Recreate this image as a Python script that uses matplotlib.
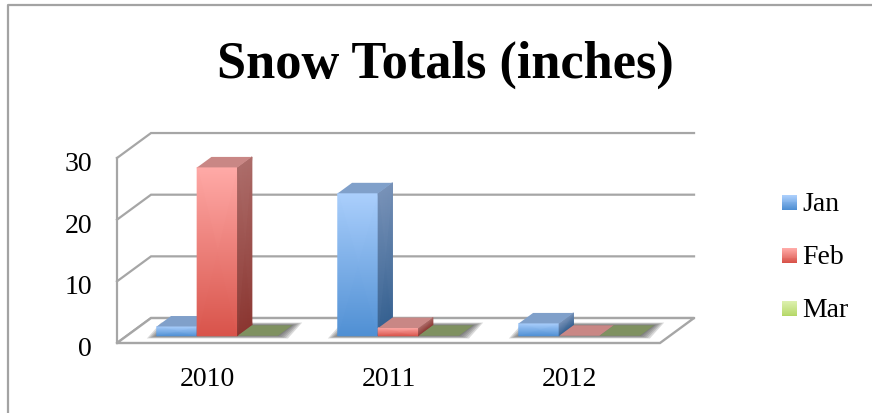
"""
Snow totals, oblique 3D column look drawn on a normal 2D axes.
"""

import matplotlib

matplotlib.use("Agg")

import matplotlib.pyplot as plt
from matplotlib.colors import LinearSegmentedColormap
from matplotlib.legend_handler import HandlerBase
from matplotlib.lines import Line2D
from matplotlib.patches import Patch, Polygon, Rectangle
from matplotlib.transforms import ScaledTranslation

YEARS = ["2010", "2011", "2012"]
MONTHS = ["Jan", "Feb", "Mar"]
JAN = [1.5, 23.1, 2.0]
FEB = [27.3, 1.25, 0.0]
MAR = [0.0, 0.0, 0.0]
Y_TICKS = [0, 10, 20, 30]

FONT = "Liberation Serif"
GRID = "#a6a6a6"

# front, side and top shades per series: (upper, lower) gradients
STYLES = {
    "Jan": {"front": ("#abcffc", "#4f8fd3"), "side": ("#7892b8", "#335f8f"), "top": "#80a0ca"},
    "Feb": {"front": ("#ffaaa7", "#d8534a"), "side": ("#ad6d6a", "#8b3631"), "top": "#c98785"},
    "Mar": {"front": ("#dcf0ae", "#b4d765"), "side": ("#8a9d6a", "#6e8247"), "top": "#7f9160"},
}

# oblique depth of the whole box, in data units
DEPTH_X = 0.188
DEPTH_Y = 4.05
BAR_W = 0.2232
D_NEAR = 0.29
D_FAR = 0.71


def proj(x, y, d):
    return x + d * DEPTH_X, y + d * DEPTH_Y


def grad_quad(ax, corners, colors, z):
    # corners: lower-left, lower-right, upper-left, upper-right
    cmap = LinearSegmentedColormap.from_list("f", [colors[1], colors[0]])
    xs = [[corners[0][0], corners[1][0]], [corners[2][0], corners[3][0]]]
    ys = [[corners[0][1], corners[1][1]], [corners[2][1], corners[3][1]]]
    ax.pcolormesh(xs, ys, [[0, 0], [1, 1]], shading="gouraud", cmap=cmap,
                  vmin=0, vmax=1, clip_on=False, zorder=z)


def draw_bar(ax, x0, value, style, z):
    x1 = x0 + BAR_W
    top = [proj(x0, value, D_NEAR), proj(x1, value, D_NEAR),
           proj(x1, value, D_FAR), proj(x0, value, D_FAR)]
    if value > 0:
        grad_quad(ax, [proj(x0, 0, D_NEAR), proj(x1, 0, D_NEAR),
                       proj(x0, value, D_NEAR), proj(x1, value, D_NEAR)],
                  style["front"], z)
        grad_quad(ax, [proj(x1, 0, D_NEAR), proj(x1, 0, D_FAR),
                       proj(x1, value, D_NEAR), proj(x1, value, D_FAR)],
                  style["side"], z)
    ax.add_patch(Polygon(top, closed=True, fc=style["top"], ec="none",
                         clip_on=False, zorder=z + 0.1))


def draw_shadow(ax, x0, x1):
    # soft grey halo on the floor round one group
    for grow in [0.055, 0.044, 0.033, 0.022, 0.011, 0.003]:
        dy = grow * 8
        pts = [proj(x0 - grow, -dy, D_NEAR), proj(x1 + grow, -dy, D_NEAR),
               proj(x1 + grow, dy, D_FAR), proj(x0 - grow, dy, D_FAR)]
        ax.add_patch(Polygon(pts, closed=True, fc="#4d4d4d", ec="none", alpha=0.2,
                             clip_on=False, zorder=2))


class GradientBox(HandlerBase):
    """Legend swatch filled with stacked strips, upper to lower colour."""

    def create_artists(self, legend, orig, xdesc, ydesc, width, height, fontsize, trans):
        cmap = LinearSegmentedColormap.from_list("h", orig.grad)
        n = 16
        side = 15 * 0.72
        out = []
        for i in range(n):
            r = Rectangle((-xdesc, -ydesc + 0.4 + side * i / n), side, side / n + 0.2,
                          fc=cmap(i / (n - 1)), ec="none", transform=trans)
            out.append(r)
        return out


def main():
    fig = plt.figure(figsize=(8.72, 4.13), dpi=100)
    ax = fig.add_axes([117 / 872, (413 - 343) / 413, 543 / 872, 185 / 413])

    # chart frame, runs off the right and bottom of the image
    fig.add_artist(Line2D([8 / 872, 8 / 872, 1], [0, 1 - 5 / 413, 1 - 5 / 413],
                          color="#a3a3a3", lw=1.6))

    # back wall gridlines and left wall
    for v in Y_TICKS:
        ax.plot([0, DEPTH_X, 3 + DEPTH_X], [v, v + DEPTH_Y, v + DEPTH_Y],
                color=GRID, lw=1.6, clip_on=False, zorder=1, solid_joinstyle="miter")
    ax.plot([0, 0], [0, 30], color=GRID, lw=1.6, clip_on=False, zorder=1)

    # floor
    floor = [(0, 0), (3, 0), (3 + DEPTH_X, DEPTH_Y), (DEPTH_X, DEPTH_Y)]
    ax.add_patch(Polygon(floor, closed=True, fc="white", ec=GRID, lw=1.7,
                         clip_on=False, zorder=1.5))

    series = [JAN, FEB, MAR]
    group_w = BAR_W * len(series)
    for i in range(len(YEARS)):
        x_start = i + 0.5 - group_w / 2
        draw_shadow(ax, x_start, x_start + group_w)
        for j, vals in enumerate(series):
            draw_bar(ax, x_start + j * BAR_W, vals[i], STYLES[MONTHS[j]], 3 + i + j * 0.2)

    ax.set_xlim(0, 3)
    ax.set_ylim(0, 30)
    ax.set_xticks([i + 0.5 for i in range(len(YEARS))])
    ax.set_xticklabels(YEARS, fontname=FONT, fontsize=20)
    ax.set_yticks(Y_TICKS)
    ax.set_yticklabels([str(v) for v in Y_TICKS], fontname=FONT, fontsize=20)
    ax.tick_params(length=0)
    ax.tick_params(axis="x", pad=17)
    ax.tick_params(axis="y", pad=18)
    # y labels sit a little under their wall lines
    shift = ScaledTranslation(0, -3.5 / 100, fig.dpi_scale_trans)
    for lab in ax.get_yticklabels():
        lab.set_transform(lab.get_transform() + shift)
    for s in ax.spines.values():
        s.set_visible(False)
    ax.patch.set_visible(False)

    fig.text(445 / 872, 1 - 78 / 413, "Snow Totals (inches)", ha="center", va="baseline",
             fontname=FONT, fontweight="bold", fontsize=37.7, color="black")

    handles = []
    for m in MONTHS:
        h = Patch(label=m)
        h.grad = [STYLES[m]["front"][1], STYLES[m]["front"][0]]
        handles.append(h)
    ax.legend(handles=handles, loc="center left", bbox_to_anchor=(782 / 872, 1 - 257 / 413),
              bbox_transform=fig.transFigure, frameon=False, labelspacing=1.0,
              handlelength=0.54, handletextpad=0.2, borderpad=0, borderaxespad=0,
              handler_map={Patch: GradientBox()},
              prop={"family": FONT, "size": 20})

    fig.savefig("out.png", dpi=100)
    plt.close(fig)


if __name__ == "__main__":
    main()
